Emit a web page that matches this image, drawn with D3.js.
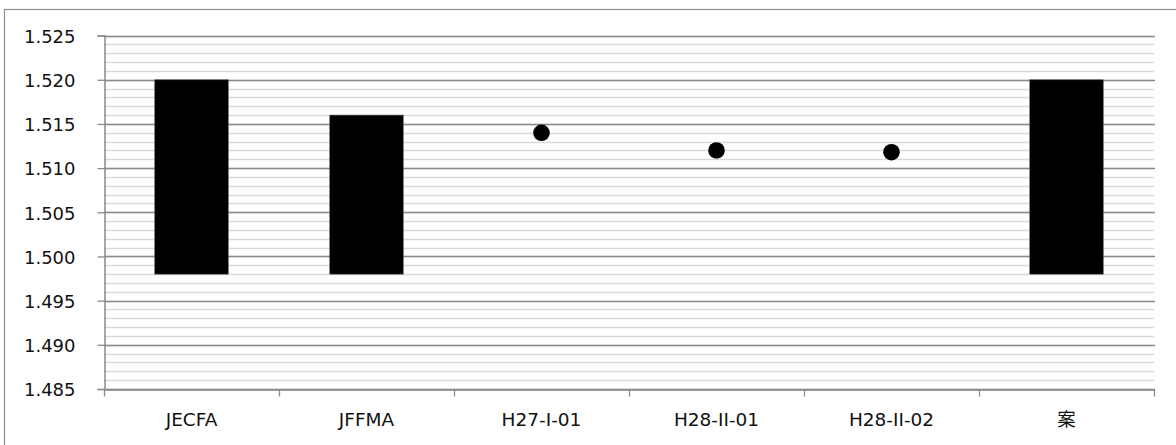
<!DOCTYPE html>
<html><head><meta charset="utf-8">
<script src="https://cdn.jsdelivr.net/npm/d3@7"></script>
<style>
html,body{margin:0;padding:0;background:#fff;}
svg{display:block;}
</style></head>
<body>
<svg id="chart" width="1176" height="445"></svg>
<script>
const categories = ["JECFA", "JFFMA", "H27-I-01", "H28-II-01", "H28-II-02", "案"];
const rangeLow  = [1.498, 1.498, null, null, null, 1.498];
const rangeHigh = [1.520, 1.516, null, null, null, 1.520];
const pointValues = [null, null, 1.514, 1.512, 1.5118, null];
const yTickValues = [1.485, 1.490, 1.495, 1.500, 1.505, 1.510, 1.515, 1.520, 1.525];
const yMinorValues = d3.range(1485, 1526, 1).map(v => v / 1000);

const svg = d3.select("#chart");
const W = 1176, H = 445;
const plot = {left: 104, right: 1154, top: 35.6, bottom: 389};

// outer chart border (left and top visible)
svg.append("rect").attr("x", 4.5).attr("y", 9.5).attr("width", W + 10).attr("height", H + 10)
  .attr("fill", "none").attr("stroke", "#8c8c8c").attr("stroke-width", 1.2);

const x = d3.scaleBand().domain(categories).range([plot.left, plot.right]).paddingInner(0).paddingOuter(0);
const y = d3.scaleLinear().domain([1.485, 1.525]).range([plot.bottom, plot.top]);

// minor gridlines
svg.append("g").selectAll("line").data(yMinorValues).join("line")
  .attr("x1", plot.left).attr("x2", plot.right)
  .attr("y1", d => Math.round(y(d)) + 0.5).attr("y2", d => Math.round(y(d)) + 0.5)
  .attr("stroke", "#d9d9d9").attr("stroke-width", 1.3);

// major gridlines
svg.append("g").selectAll("line").data(yTickValues).join("line")
  .attr("x1", plot.left).attr("x2", plot.right + 1)
  .attr("y1", d => Math.round(y(d)) + 0.5).attr("y2", d => Math.round(y(d)) + 0.5)
  .attr("stroke", "#8a8a8a").attr("stroke-width", 1.3);

// y axis
const yAxis = d3.axisLeft(y).tickValues(yTickValues).tickFormat(d3.format(".3f")).tickSize(7).tickPadding(22);
const gy = svg.append("g").attr("transform", `translate(${plot.left + 0.5},0)`).call(yAxis);
gy.select(".domain").attr("stroke", "#8a8a8a").attr("stroke-width", 1.5);
gy.selectAll(".tick line").attr("stroke", "#8a8a8a").attr("stroke-width", 1.3);
gy.selectAll(".tick text").attr("font-family", "'DejaVu Sans', sans-serif").attr("font-size", 18).attr("fill", "#111").attr("dy", "0.38em");

// x axis
const xAxis = d3.axisBottom(x).tickSize(0).tickPadding(23);
const gx = svg.append("g").attr("transform", `translate(0,${Math.round(y(1.485)) + 0.5})`).call(xAxis);
gx.select(".domain").attr("stroke", "#8a8a8a").attr("stroke-width", 1.5);
gx.selectAll(".tick text").attr("font-family", "'DejaVu Sans', 'Noto Sans CJK JP', sans-serif").attr("font-size", 18.5).attr("fill", "#111");
// tick marks at category boundaries
const boundaries = categories.map(c => x(c)).concat([x(categories[categories.length - 1]) + x.bandwidth()]);
gx.selectAll(".bound").data(boundaries).join("line").attr("class", "bound")
  .attr("x1", d => Math.round(d) + 0.5).attr("x2", d => Math.round(d) + 0.5)
  .attr("y1", 0).attr("y2", 7).attr("stroke", "#8a8a8a").attr("stroke-width", 1.3);

// range bars
const barW = x.bandwidth() * 0.42;
const barData = categories.map((c, i) => ({c, lo: rangeLow[i], hi: rangeHigh[i]})).filter(d => d.lo !== null);
svg.append("g").selectAll("rect").data(barData).join("rect")
  .attr("x", d => x(d.c) + x.bandwidth() / 2 - barW / 2)
  .attr("width", barW)
  .attr("y", d => y(d.hi))
  .attr("height", d => y(d.lo) - y(d.hi))
  .attr("fill", "#000").attr("stroke", "#555").attr("stroke-width", 0.6);

// points
const ptData = categories.map((c, i) => ({c, v: pointValues[i]})).filter(d => d.v !== null);
svg.append("g").selectAll("circle").data(ptData).join("circle")
  .attr("cx", d => x(d.c) + x.bandwidth() / 2)
  .attr("cy", d => y(d.v))
  .attr("r", 8.3).attr("fill", "#000");
</script>
</body></html>
